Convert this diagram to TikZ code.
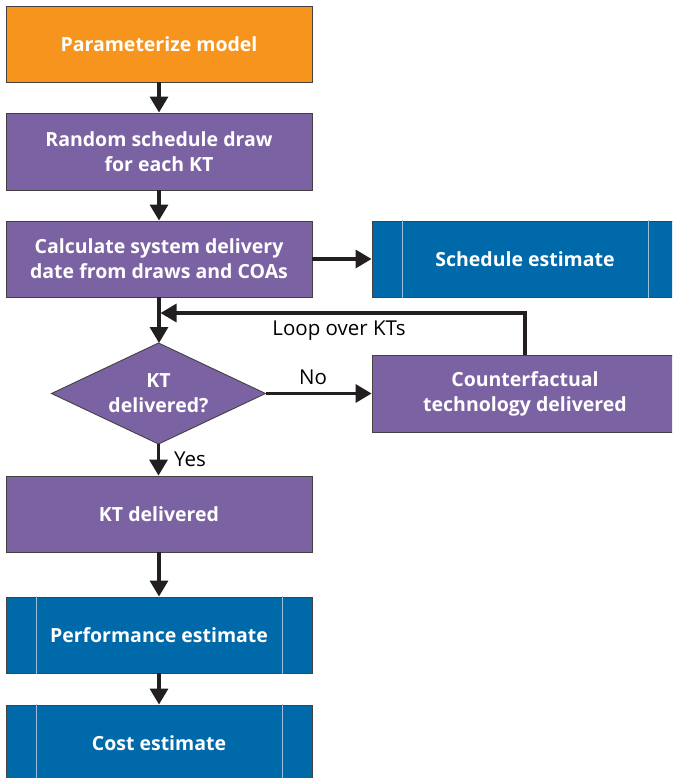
\documentclass[tikz,border=0pt]{standalone}
\usepackage{fontspec}
\setmainfont{Open Sans}
\usetikzlibrary{shapes.geometric,arrows.meta}
\definecolor{orangeC}{HTML}{F7941D}
\definecolor{purpleC}{HTML}{7B62A3}
\definecolor{blueC}{HTML}{0069AA}
\definecolor{lineC}{HTML}{9DBFDD}
\definecolor{edgeC}{HTML}{231F20}
\begin{document}
\begin{tikzpicture}[x=1pt,y=-1pt,
  box/.style={draw=edgeC!85,line width=0.9pt,minimum width=306pt,minimum height=76pt,inner sep=0pt,
    text=white,font=\fontsize{19.5}{25}\selectfont\bfseries,align=center},
  orangebox/.style={box,fill=orangeC},
  purplebox/.style={box,fill=purpleC},
  bluebox/.style={box,fill=blueC},
  decision/.style={diamond,draw=edgeC!85,line width=0.9pt,fill=purpleC,minimum width=214pt,minimum height=101pt,
    inner sep=0pt,outer sep=0pt},
  dtext/.style={text=white,font=\fontsize{19.5}{25}\selectfont\bfseries,align=center,inner sep=0pt},
  flow/.style={draw=edgeC,line width=3.4pt,-{Triangle[width=18pt,length=16pt]}},
  lbl/.style={text=black,font=\fontsize{20.5}{24}\selectfont,inner sep=0pt}
]
\useasboundingbox (0,0) rectangle (672,778);
\clip (0,0) rectangle (672,778);
\node[orangebox] (param) at (159,44) {Parameterize model};
\node[purplebox,minimum height=77pt] (rand) at (159,151.5) {Random schedule draw\\for each KT};
\node[purplebox] (calc) at (159,259) {Calculate system delivery\\date from draws and COAs};
\node[bluebox] (sched) at (525,259) {Schedule estimate};
\node[decision] (dia) at (158.5,393.5) {};
\node[dtext] (diatext) at (dia.center) {KT\\delivered?};
\node[purplebox,minimum height=77pt] (cf) at (525,393.5) {Counterfactual\\technology delivered};
\node[purplebox] (ktd) at (159,514) {KT delivered};
\node[bluebox] (perf) at (159,635) {Performance estimate};
\node[bluebox] (cost) at (159,743) {Cost estimate};
\foreach \n in {sched,perf,cost}{
  \draw[lineC,line width=1.2pt] ([xshift=31pt,yshift=-0.6pt]\n.south west) -- ([xshift=31pt,yshift=0.6pt]\n.north west);
  \draw[lineC,line width=1.2pt] ([xshift=-30pt,yshift=-0.6pt]\n.south east) -- ([xshift=-30pt,yshift=0.6pt]\n.north east);
}
\coordinate (join) at (160.5,313);
\draw[flow] (param) -- (rand);
\draw[flow] (rand) -- (calc);
\draw[flow] (calc) -- (sched);
\draw[flow] (calc.south) -- (calc.south |- dia.north);
\draw[flow] (dia.east) -- (cf.west);
\draw[flow] (dia.south) -- (dia.south |- ktd.north);
\draw[flow] (ktd) -- (perf);
\draw[flow] (perf) -- (cost);
\draw[flow] (cf.north) |- (join);
\node[lbl] (loop) at (339,331) {Loop over KTs};
\node[lbl] (no) at (313,377) {No};
\node[lbl] (yes) at (190,459) {Yes};
\end{tikzpicture}
\end{document}
